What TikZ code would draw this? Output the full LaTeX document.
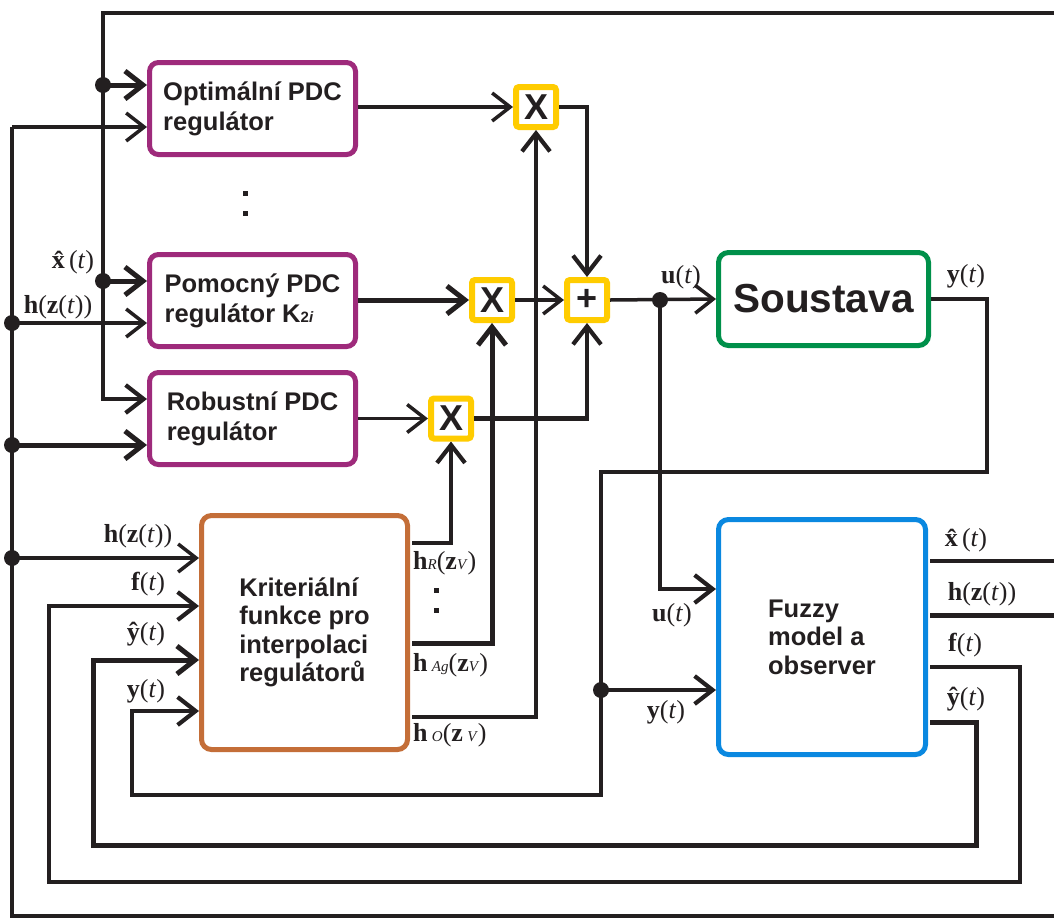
\documentclass[tikz,border=0pt]{standalone}
\usepackage{fontspec}
\setmainfont{Liberation Serif}
\newfontfamily\boxfont{Liberation Sans}
\usetikzlibrary{arrows.meta,calc}
\definecolor{wirec}{HTML}{231F20}
\definecolor{ctrlc}{HTML}{9E2A7B}
\definecolor{multc}{HTML}{FFCC00}
\definecolor{sysc}{HTML}{00904A}
\definecolor{kritc}{HTML}{C46E38}
\definecolor{fuzc}{HTML}{0A88E0}
\newcommand\mytarg{(\textit{t})}
\begin{document}
\begin{tikzpicture}[x=1pt,y=-1pt,
  wire/.style={draw=wirec,line width=3.5pt},
  wmid/.style={draw=wirec,line width=4.2pt},
  wthk/.style={draw=wirec,line width=5pt},
  arr/.style={-{Straight Barb[length=18pt,width=28pt]}},
  ctrl/.style={draw=ctrlc,line width=5pt,rounded corners=9pt,minimum width=206pt,minimum height=92pt,inner sep=0pt,align=left,font=\boxfont\bfseries\fontsize{25.5}{30}\selectfont,text=wirec},
  mult/.style={draw=multc,line width=6pt,rounded corners=3pt,minimum size=40pt,inner sep=0pt,font=\boxfont\bfseries\fontsize{36}{36}\selectfont,text=wirec},
  bigbox/.style={line width=5pt,rounded corners=10pt,inner sep=0pt,align=left,font=\boxfont\bfseries\fontsize{25.5}{28.5}\selectfont,text=wirec},
  lab/.style={font=\fontsize{26}{26}\selectfont,text=wirec,inner sep=0pt},
  dot/.style={fill=wirec}]
\useasboundingbox (0,0) rectangle (1054,919);
\fill[white] (0,0) rectangle (1054,919);

% blocks
\node[ctrl] (opt) at (252.5,108.5) {Optimální PDC\\regulátor};
\node[ctrl] (pom) at (252.5,300.5) {Pomocný PDC\\regulátor K{\fontsize{15}{15}\selectfont 2\textit{i}}};
\node[ctrl] (rob) at (252.5,418.5) {Robustní PDC\\regulátor};
\node[mult] (x1) at (536,107) {X};
\node[mult] (x2) at (492,300) {X};
\node[mult] (x3) at (451,418.5) {X};
\node[mult] (sum) at (587,300) {+};
\node[bigbox,draw=sysc,minimum width=210pt,minimum height=93pt,font=\boxfont\bfseries\fontsize{40.5}{40}\selectfont] (sys) at (823.5,299) {Soustava};
\node[bigbox,draw=kritc,minimum width=206pt,minimum height=234pt] (krit) at (304.5,632.5) {Kriteriální\\funkce pro\\interpolaci\\regulátorů};
\node[bigbox,draw=fuzc,minimum width=207pt,minimum height=235pt] (fuz) at (822,637) {Fuzzy\\model a\\observer};

% vertical ellipsis marks
\fill[wirec] (242.5,190.5) rectangle (247.5,195.5);
\fill[wirec] (242.5,210.5) rectangle (247.5,215.5);
\fill[wirec] (433.5,587.5) rectangle (438.5,592.5);
\fill[wirec] (433.5,607.5) rectangle (438.5,612.5);

% junction coordinates
\coordinate (xe) at (1054,13);
\coordinate (xtop) at (103,13);
\coordinate (dx1) at (103,85);
\coordinate (dx2) at (103,281);
\coordinate (xc) at (103,399);
\coordinate (hc) at (12,127);
\coordinate (hbot) at (12,916);
\coordinate (hend) at (1054,916);
\coordinate (dh1) at (12,323);
\coordinate (dh2) at (12,445);
\coordinate (dh3) at (12,558);
\coordinate (du) at (660,300);
\coordinate (uin) at (660,589);
\coordinate (yr) at (987,472);
\coordinate (yl) at (601,472);
\coordinate (dy) at (601,690);
\coordinate (yb) at (601,795);
\coordinate (ybl) at (132,795);
\coordinate (yin) at (132,711);
\coordinate (fo) at (930,667);
\coordinate (fr) at (1020,882);
\coordinate (fl) at (49,882);
\coordinate (fin) at (49,606);
\coordinate (gho) at (930,722);
\coordinate (ghr) at (976,845);
\coordinate (ghl) at (93,845);
\coordinate (ghin) at (93,660);
\coordinate (xo) at (930,561);
\coordinate (xoe) at (1054,561);
\coordinate (ho) at (930,615);
\coordinate (hoe) at (1054,615);
\coordinate (kR) at (412,543);
\coordinate (kA) at (412,643);
\coordinate (kO) at (412,717);

% x-hat bus
\draw[wmid,arr] (xe) -- (xtop) -- (xc) -- (xc -| rob.west);
\draw[wthk,arr] (dx1) -- (dx1 -| opt.west);
\draw[wthk,arr] (dx2) -- (dx2 -| pom.west);
% h bus
\draw[wmid] (hend) -- (hbot) -- (hc);
\draw[wire,arr] (hc) -- (hc -| opt.west);
\draw[wire,arr] (dh1) -- (dh1 -| pom.west);
\draw[wthk,arr] (dh2) -- (dh2 -| rob.west);
\draw[wire,arr] (dh3) -- (dh3 -| krit.west);

% controllers to multipliers
\draw[wire,arr] (opt.east |- x1.west) -- (x1.west);
\draw[wthk,arr] (pom.east |- x2.west) -- (x2.west);
\draw[wire,arr] (rob.east |- x3.west) -- (x3.west);
% multipliers to sum
\draw[wmid,arr] (x1.east) -| (sum.north);
\draw[wire,arr] (x2.east) -- (sum.west);
\draw[wmid,arr] (x3.east) -| (sum.south);
% weights to multipliers
\draw[wmid,arr] (kR) -| (x3.south);
\draw[wthk,arr] (kA) -| (x2.south);
\draw[wmid,arr] (kO) -| (x1.south);

% control signal
\draw[wire,arr] (sum.east) -- (sys.west);
\draw[wmid,arr] (du) -- (uin) -- (uin -| fuz.west);
% plant output loop
\draw[wmid,arr] (sys.east) -| (yr) -- (yl) -- (yb) -- (ybl) -- (yin) -- (yin -| krit.west);
\draw[wmid,arr] (dy) -- (dy -| fuz.west);
% observer outputs
\draw[wmid] (xo) -- (xoe);
\draw[wthk] (ho) -- (hoe);
\draw[wmid,arr] (fo) -| (fr) -- (fl) -- (fin) -- (fin -| krit.west);
\draw[wthk,arr] (gho) -| (ghr) -- (ghl) -- (ghin) -- (ghin -| krit.west);

% dots
\foreach \p in {dx1,dx2,dh1,dh2,dh3,du,dy} \fill[dot] (\p) circle[radius=8];

% labels
\node[lab] (lx) at (73,262) {\textbf{\^{x}}\mytarg};
\node[lab] (lh) at (58,307) {\textbf{h}(\textbf{z}\mytarg)};
\node[lab] (lhk) at (138,536) {\textbf{h}(\textbf{z}\mytarg)};
\node[lab] (lf) at (148,584) {\textbf{f}\mytarg};
\node[lab] (lyh) at (146,634) {\textbf{\^{y}}\mytarg};
\node[lab] (ly) at (146,691) {\textbf{y}\mytarg};
\node[lab,anchor=west] (lR) at (413,563) {\textbf{h}{\fontsize{15}{15}\selectfont\textit{R}}(\textbf{z}{\fontsize{15}{15}\selectfont\textit{V}})};
\node[lab,anchor=west] (lA) at (413,665) {\textbf{h}\,{\fontsize{15}{15}\selectfont\textit{Ag}}(\textbf{z}{\fontsize{15}{15}\selectfont\textit{V}})};
\node[lab,anchor=west] (lO) at (413,735) {\textbf{h}\,{\fontsize{15}{15}\selectfont\textit{O}}(\textbf{z}\,{\fontsize{15}{15}\selectfont\textit{V}})};
\node[lab] (lu1) at (681,277) {\textbf{u}\mytarg};
\node[lab] (lu2) at (672,615) {\textbf{u}\mytarg};
\node[lab] (lys) at (966,276) {\textbf{y}\mytarg};
\node[lab] (lyf) at (666,712) {\textbf{y}\mytarg};
\node[lab] (lxo) at (966,540) {\textbf{\^{x}}\mytarg};
\node[lab] (lho) at (982,594) {\textbf{h}(\textbf{z}\mytarg)};
\node[lab] (lfo) at (965,645) {\textbf{f}\mytarg};
\node[lab] (lyo) at (966,699) {\textbf{\^{y}}\mytarg};
\end{tikzpicture}
\end{document}
